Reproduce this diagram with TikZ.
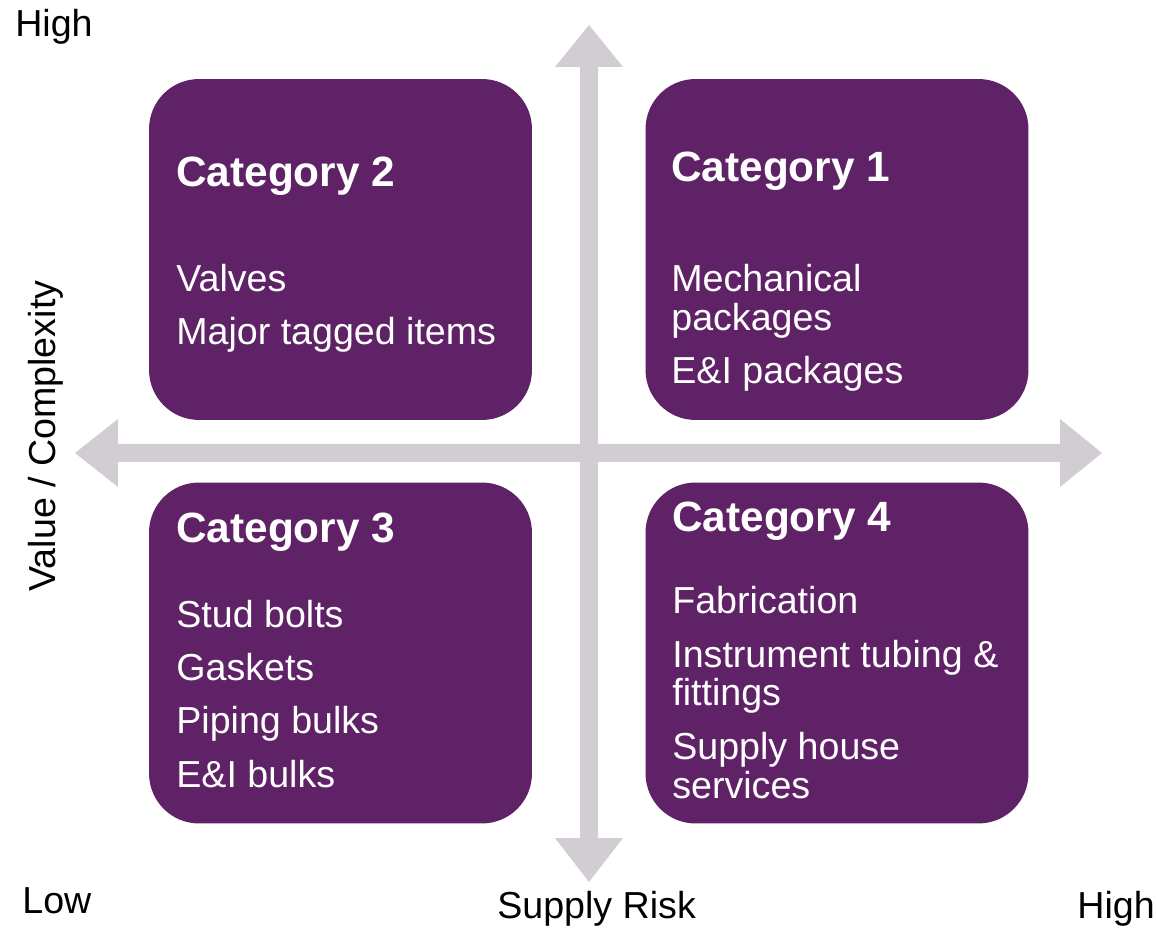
\documentclass[tikz,border=0pt]{standalone}
\usepackage{fontspec}
\setmainfont{Liberation Sans}
\definecolor{catpurple}{RGB}{95,34,102}
\definecolor{axisgray}{RGB}{210,205,211}
\tikzset{
	catbox/.style={fill=catpurple, rounded corners=1cm, minimum width=7.66cm, minimum height=6.82cm, inner sep=0pt},
	cattitle/.style={anchor=base west, inner sep=0pt, text=white, font=\fontsize{24.1}{28}\selectfont\bfseries},
	catitems/.style={anchor=base west, inner sep=0pt, text=white, align=left, font=\fontsize{21.4}{22.1}\selectfont},
	axislabel/.style={anchor=base west, inner sep=0pt, font=\fontsize{21.4}{22.1}\selectfont}
}
\begin{document}
\begin{tikzpicture}[x=0.02cm, y=-0.02cm]
	\useasboundingbox (0,0) rectangle (1156,928);
	% axes
	\fill[axisgray](589,25)--(623,67)--(598,67)--(598,838)--(623,838)--(589,882)--(555,838)--(580,838)--(580,67)--(555,67)--cycle;
	\fill[axisgray](75,453)--(118,419)--(118,444)--(1060,444)--(1060,419)--(1102,453)--(1060,487)--(1060,462)--(118,462)--(118,487)--cycle;
	% quadrants (item nodes sit on the baseline of their last line)
	\node[catbox](cat2) at (340.5,249.5) {};
	\node[catbox](cat1) at (837,249.5) {};
	\node[catbox](cat3) at (340.5,653) {};
	\node[catbox](cat4) at (837,653) {};
	\node[cattitle](cat2title) at (176,187) {Category 2};
	\node[catitems](cat2items) at (176,345) {Valves\\[8.2pt] Major tagged items};
	\node[cattitle](cat1title) at (671,182) {Category 1};
	\node[catitems](cat1items) at (671,384) {Mechanical\\ packages\\[8.2pt] E\&I packages};
	\node[cattitle](cat3title) at (176,543) {Category 3};
	\node[catitems](cat3items) at (176,787) {Stud bolts\\[8.2pt] Gaskets\\[8.2pt] Piping bulks\\[8.2pt] E\&I bulks};
	\node[cattitle](cat4title) at (672,532) {Category 4};
	\node[catitems](cat4items) at (672,798) {Fabrication\\[8.2pt] Instrument tubing \&\\ fittings\\[8.2pt] Supply house\\ services};
	% axis labels
	\node[axislabel](hightop) at (15,37) {High};
	\node[axislabel](low) at (22,913) {Low};
	\node[axislabel](risk) at (497,918) {Supply Risk};
	\node[axislabel](highright) at (1077,918) {High};
	\node[axislabel, anchor=base, rotate=90](value) at (55,436) {Value / Complexity};
\end{tikzpicture}
\end{document}
